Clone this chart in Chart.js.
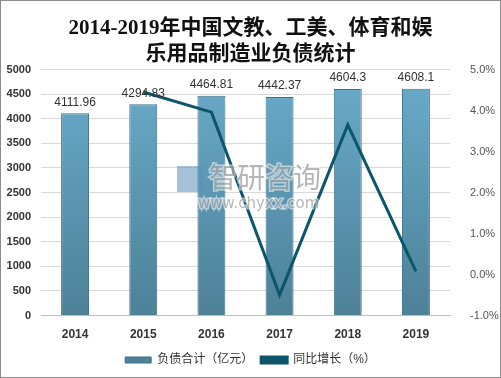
<!DOCTYPE html>
<html>
<head>
<meta charset="utf-8">
<script src="https://cdn.jsdelivr.net/npm/chart.js@4"></script>
<style>
  html, body { margin: 0; padding: 0; background: #fff; }
  #wrap { position: relative; width: 501px; height: 378px; box-sizing: border-box; border: 1px solid #8c8c8c; }
  canvas { display: block; }
</style>
</head>
<body>
<div id="wrap"><canvas id="c" width="499" height="376"></canvas></div>
<script>
const years = ['2014', '2015', '2016', '2017', '2018', '2019'];
const debt = [4111.96, 4294.83, 4464.81, 4442.37, 4604.3, 4608.1];
const growth = [null, 4.45, 3.96, -0.5, 3.65, 0.08];
const leftTicks = [0, 500, 1000, 1500, 2000, 2500, 3000, 3500, 4000, 4500, 5000];
const rightTicks = [-1, 0, 1, 2, 3, 4, 5];

const SANS = '"Liberation Sans", "Noto Sans CJK SC", sans-serif';

// bar value labels + watermark
const labelsPlugin = {
  id: 'barLabels',
  afterDatasetsDraw(chart) {
    const ctx = chart.ctx;
    const meta = chart.getDatasetMeta(0);
    ctx.save();
    ctx.font = '12px ' + SANS;
    ctx.fillStyle = '#333';
    ctx.textAlign = 'center';
    ctx.textBaseline = 'bottom';
    meta.data.forEach((bar, i) => {
      ctx.fillText(String(debt[i]), bar.x, bar.y - 5);
    });
    // watermark
    ctx.globalAlpha = 0.55;
    ctx.font = '28px "Noto Sans CJK SC", sans-serif';
    ctx.textAlign = 'left';
    ctx.textBaseline = 'alphabetic';
    ctx.strokeStyle = '#fff';
    ctx.lineWidth = 3;
    ctx.strokeText('智研咨询', 208, 187);
    ctx.fillStyle = '#7a7a7a';
    ctx.fillText('智研咨询', 208, 187);
    ctx.font = '15px "DejaVu Sans", sans-serif';
    ctx.strokeText('www.chyxx.com', 197, 207);
    ctx.fillText('www.chyxx.com', 197, 207);
    ctx.fillStyle = '#5b8fb8';
    ctx.fillRect(176, 165, 26, 26);
    ctx.restore();
  }
};

new Chart(document.getElementById('c'), {
  type: 'bar',
  data: {
    labels: years,
    datasets: [
      {
        label: '负债合计（亿元）',
        data: debt,
        yAxisID: 'y',
        order: 1,
        backgroundColor(c) {
          const a = c.chart.chartArea;
          if (!a) return '#5f9fbd';
          const g = c.chart.ctx.createLinearGradient(0, a.top, 0, a.bottom);
          g.addColorStop(0, '#6aaccb');
          g.addColorStop(1, '#4d8198');
          return g;
        },
        borderColor: '#3d7085',
        borderWidth: 1,
        barPercentage: 0.41,
        categoryPercentage: 1,
      },
      {
        type: 'line',
        label: '同比增长（%）',
        data: growth,
        yAxisID: 'y1',
        order: 0,
        borderColor: '#0c566c',
        backgroundColor: '#0c566c',
        borderWidth: 3,
        pointRadius: 0,
        tension: 0,
      },
    ],
  },
  options: {
    responsive: false,
    animation: false,
    layout: { padding: { left: 0, right: 0, top: 0, bottom: 1 } },
    plugins: {
      title: {
        display: true,
        text: ['2014-2019年中国文教、工美、体育和娱', '乐用品制造业负债统计'],
        font: { size: 21, weight: 'bold', family: '"Liberation Serif", "Noto Sans CJK SC", serif', lineHeight: 1.25 },
        color: '#111',
        padding: { top: 14, bottom: 2 },
      },
      legend: {
        position: 'bottom',
        labels: {
          boxWidth: 26,
          boxHeight: 6,
          color: '#333',
          font: { size: 12, family: SANS },
          padding: 8,
          sort: (a, b) => a.datasetIndex - b.datasetIndex,
        },
      },
      tooltip: { enabled: false },
    },
    scales: {
      x: {
        grid: { display: false },
        border: { color: '#bfbfbf' },
        ticks: { color: '#333', font: { size: 12, weight: 'bold', family: SANS }, padding: 4 },
      },
      y: {
        position: 'left',
        min: 0,
        max: 5000,
        afterBuildTicks: s => { s.ticks = leftTicks.map(v => ({ value: v })); },
        afterFit: s => { s.width = 40; },
        grid: { color: '#d9d9d9', drawTicks: false },
        border: { display: false },
        ticks: { color: '#333', font: { size: 11, weight: 'bold', family: SANS }, padding: 10, callback: v => String(v) },
      },
      y1: {
        position: 'right',
        min: -1,
        max: 5,
        afterBuildTicks: s => { s.ticks = rightTicks.map(v => ({ value: v })); },
        afterFit: s => { s.width = 50; },
        grid: { display: false },
        border: { display: false },
        ticks: { color: '#555', font: { size: 11, family: SANS }, padding: 12, callback: v => v.toFixed(1) + '%' },
      },
    },
  },
  plugins: [labelsPlugin],
});
</script>
</body>
</html>
